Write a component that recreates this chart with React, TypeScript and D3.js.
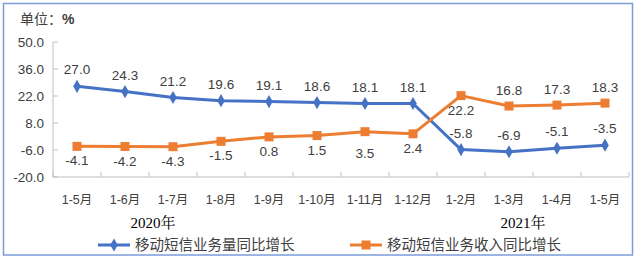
import React from "react";
import * as d3 from "d3";

const categories = ["1-5月", "1-6月", "1-7月", "1-8月", "1-9月", "1-10月", "1-11月", "1-12月", "1-2月", "1-3月", "1-4月", "1-5月"];
const volumeGrowth = [27.0, 24.3, 21.2, 19.6, 19.1, 18.6, 18.1, 18.1, -5.8, -6.9, -5.1, -3.5];
const revenueGrowth = [-4.1, -4.2, -4.3, -1.5, 0.8, 1.5, 3.5, 2.4, 22.2, 16.8, 17.3, 18.3];
const yTicks = [-20, -6, 8, 22, 36, 50];
const seriesNames = ["移动短信业务量同比增长", "移动短信业务收入同比增长"];
const yearLabels = ["2020年", "2021年"];

const W = 640, H = 260;
const left = 53, right = 629, top = 42, bottom = 177;
const BLUE = "#4472C4", ORANGE = "#ED7D31";
const AXIS = "#BFBFBF", TXT = "#404040";
const NUM_FONT = "'Liberation Sans', Arial, sans-serif";
const CJK_FONT = "'Liberation Sans', 'Noto Sans CJK SC', sans-serif";

export default function App() {
  const x = d3.scaleBand<number>().domain(d3.range(categories.length)).range([left, right]).padding(0);
  const y = d3.scaleLinear().domain([-20, 50]).range([bottom, top]);
  const cx = (i: number) => (x(i) as number) + x.bandwidth() / 2;
  const line = d3.line<number>().x((_, i) => cx(i)).y((d) => y(d));
  const diamond = d3.symbol().type(d3.symbolDiamond).size(50)();
  const boundaries = d3.range(categories.length + 1).map((i) => left + i * x.bandwidth());

  return (
    <svg width={W} height={H} style={{ position: "absolute", left: 0, top: 0, background: "#fff" }}>
      <rect x={3.5} y={3.5} width={629} height={251.5} fill="#fff" stroke="#7C9CD8" strokeWidth={1.5} />
      <text x={20} y={24} fontSize={14} fill={TXT} fontFamily={CJK_FONT}>
        单位：<tspan fontWeight="bold" fontFamily={NUM_FONT}>%</tspan>
      </text>
      {/* axes */}
      <line x1={left} x2={left} y1={top} y2={bottom} stroke={AXIS} strokeWidth={1} />
      <line x1={left} x2={right} y1={bottom} y2={bottom} stroke={AXIS} strokeWidth={1} />
      {yTicks.map((t) => (
        <g key={t}>
          <line x1={left} x2={left + 5} y1={y(t)} y2={y(t)} stroke={AXIS} />
          <text x={44} y={y(t) + 5} textAnchor="end" fontSize={13.5} fill={TXT} fontFamily={NUM_FONT}>
            {t.toFixed(1)}
          </text>
        </g>
      ))}
      {boundaries.map((b, i) => (
        <line key={i} x1={b} x2={b} y1={bottom} y2={bottom - 5} stroke={AXIS} />
      ))}
      {categories.map((c, i) => (
        <text key={i} x={cx(i)} y={204} textAnchor="middle" fontSize={12.5} fill={TXT} fontFamily={CJK_FONT}>
          {c}
        </text>
      ))}
      <text x={153} y={228} textAnchor="middle" fontSize={15} fill="#000" fontFamily="'Liberation Serif', 'Noto Serif CJK SC', serif">
        {yearLabels[0]}
      </text>
      <text x={523} y={228} textAnchor="middle" fontSize={15} fill="#000" fontFamily="'Liberation Serif', 'Noto Serif CJK SC', serif">
        {yearLabels[1]}
      </text>
      {/* series lines */}
      <path d={line(volumeGrowth) || ""} fill="none" stroke={BLUE} strokeWidth={3} strokeLinejoin="round" />
      <path d={line(revenueGrowth) || ""} fill="none" stroke={ORANGE} strokeWidth={3} strokeLinejoin="round" />
      {volumeGrowth.map((v, i) => (
        <path key={i} d={diamond || ""} transform={`translate(${cx(i)},${y(v)})`} fill={BLUE} />
      ))}
      {revenueGrowth.map((v, i) => (
        <rect key={i} x={cx(i) - 4.5} y={y(v) - 4.5} width={9} height={9} fill={ORANGE} />
      ))}
      {/* data labels */}
      {volumeGrowth.map((v, i) => (
        <text key={i} x={cx(i)} y={y(v) - 12} textAnchor="middle" fontSize={13.5} fill={TXT} fontFamily={NUM_FONT}>
          {v.toFixed(1)}
        </text>
      ))}
      {revenueGrowth.map((v, i) => {
        const below = i <= 8;
        return (
          <text key={i} x={cx(i)} y={below ? y(v) + (i === 6 ? 26 : 19) : y(v) - 11} textAnchor="middle" fontSize={13.5} fill={TXT} fontFamily={NUM_FONT}>
            {v.toFixed(1)}
          </text>
        );
      })}
      {/* legend */}
      <line x1={98} x2={130} y1={245} y2={245} stroke={BLUE} strokeWidth={3} />
      <path d={diamond || ""} transform="translate(114,245)" fill={BLUE} />
      <text x={135} y={250} fontSize={14.5} fill={TXT} fontFamily={CJK_FONT}>{seriesNames[0]}</text>
      <line x1={350} x2={382} y1={245} y2={245} stroke={ORANGE} strokeWidth={3} />
      <rect x={361.5} y={240.5} width={9} height={9} fill={ORANGE} />
      <text x={387} y={250} fontSize={14.5} fill={TXT} fontFamily={CJK_FONT}>{seriesNames[1]}</text>
    </svg>
  );
}
